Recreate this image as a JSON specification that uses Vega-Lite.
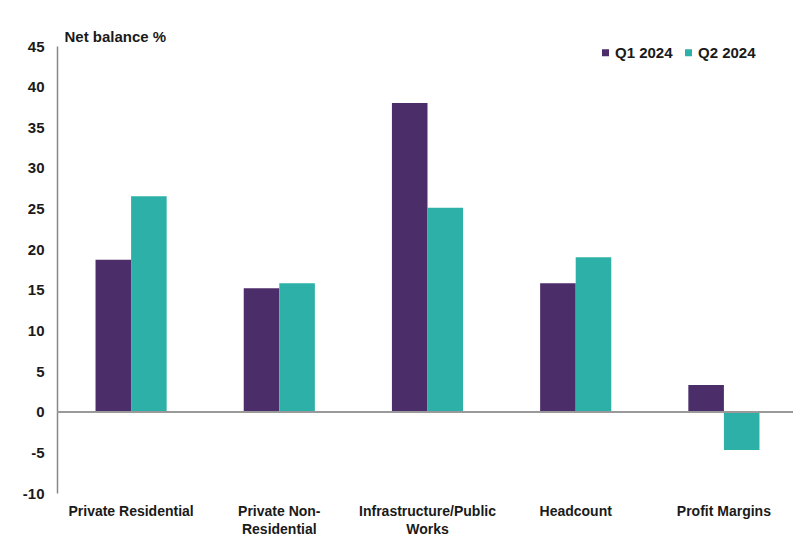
{
  "$schema": "https://vega.github.io/schema/vega-lite/v6.json",
  "width": 741,
  "height": 447,
  "autosize": {"type": "none"},
  "padding": {"left": 57, "top": 46, "right": 0, "bottom": 58},
  "background": "white",
  "config": {"view": {"stroke": null}, "font": "Liberation Sans"},
  "data": {
    "values": [
      {"category": "Private Residential", "series": "Q1 2024", "value": 18.7},
      {"category": "Private Residential", "series": "Q2 2024", "value": 26.5},
      {"category": "Private Non-Residential", "series": "Q1 2024", "value": 15.2},
      {"category": "Private Non-Residential", "series": "Q2 2024", "value": 15.8},
      {"category": "Infrastructure/Public Works", "series": "Q1 2024", "value": 38.0},
      {"category": "Infrastructure/Public Works", "series": "Q2 2024", "value": 25.1},
      {"category": "Headcount", "series": "Q1 2024", "value": 15.8},
      {"category": "Headcount", "series": "Q2 2024", "value": 19.0},
      {"category": "Profit Margins", "series": "Q1 2024", "value": 3.3},
      {"category": "Profit Margins", "series": "Q2 2024", "value": -4.7}
    ]
  },
  "layer": [
    {
      "mark": {"type": "bar"},
      "encoding": {
        "x": {
          "field": "category",
          "type": "nominal",
          "sort": null,
          "scale": {"paddingInner": 0.52, "paddingOuter": 0.26},
          "axis": {
            "title": null,
            "domain": false,
            "ticks": false,
            "labelAngle": 0,
            "labelPadding": 11,
            "labelFontSize": 14,
            "labelFontWeight": "bold",
            "labelColor": "#1a1a1a",
            "labelLineHeight": 18,
            "labelExpr": "datum.value == 'Private Non-Residential' ? ['Private Non-', 'Residential'] : datum.value == 'Infrastructure/Public Works' ? ['Infrastructure/Public', 'Works'] : datum.value"
          }
        },
        "xOffset": {"field": "series", "type": "nominal", "sort": ["Q1 2024", "Q2 2024"]},
        "y": {
          "field": "value",
          "type": "quantitative",
          "scale": {"domain": [-10, 45], "nice": false, "zero": false},
          "axis": {
            "values": [-10, -5, 0, 5, 10, 15, 20, 25, 30, 35, 40, 45],
            "labelExpr": "'' + datum.value",
            "grid": false,
            "ticks": false,
            "domain": true,
            "domainColor": "#888888",
            "domainWidth": 1.5,
            "labelPadding": 13,
            "labelFontSize": 15,
            "labelFontWeight": "bold",
            "labelColor": "#1a1a1a",
            "title": "Net balance %",
            "titleAngle": 0,
            "titleAlign": "left",
            "titleBaseline": "alphabetic",
            "titleX": 7,
            "titleY": -5,
            "titleFontSize": 15,
            "titleFontWeight": "bold",
            "titleColor": "#1a1a1a"
          }
        },
        "color": {
          "field": "series",
          "type": "nominal",
          "scale": {"domain": ["Q1 2024", "Q2 2024"], "range": ["#4b2d69", "#2db0a8"]},
          "legend": {
            "title": null,
            "orient": "none",
            "legendX": 541,
            "legendY": -1,
            "direction": "horizontal",
            "symbolType": "square",
            "symbolSize": 49,
            "symbolStrokeWidth": 0,
            "labelFontSize": 15,
            "labelFontWeight": "bold",
            "labelColor": "#1a1a1a",
            "labelOffset": 2,
            "columnPadding": 8,
            "padding": 0
          }
        }
      }
    },
    {
      "mark": {"type": "rule", "color": "#999999", "strokeWidth": 1.5},
      "encoding": {"y": {"datum": 0}}
    }
  ]
}
